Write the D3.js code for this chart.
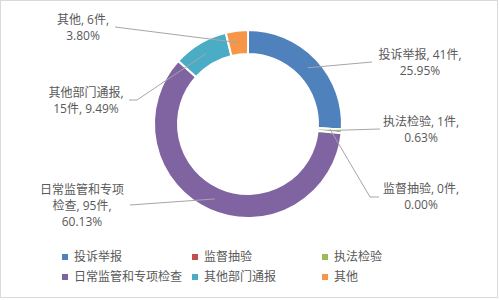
<!DOCTYPE html>
<html>
<head>
<meta charset="utf-8">
<script src="https://cdn.jsdelivr.net/npm/d3@7"></script>
<style>
  body { margin: 0; background: #fff; }
  text { font-family: "Open Sans", "Noto Sans CJK SC", sans-serif; }
</style>
</head>
<body>
<svg id="chart" width="499" height="300"></svg>
<script>
// data
const categories = ["投诉举报", "监督抽验", "执法检验", "日常监管和专项检查", "其他部门通报", "其他"];
const counts = [41, 0, 1, 95, 15, 6];
const percents = ["25.95%", "0.00%", "0.63%", "60.13%", "9.49%", "3.80%"];
const colors = ["#4F81BD", "#C0504D", "#9BBB59", "#8064A2", "#4BACC6", "#F79646"];

// label lines as displayed (wrapped like the original)
const labelLines = [
  ["投诉举报, 41件,", "25.95%"],
  ["监督抽验, 0件,", "0.00%"],
  ["执法检验, 1件,", "0.63%"],
  ["日常监管和专项", "检查, 95件,", "60.13%"],
  ["其他部门通报,", "15件, 9.49%"],
  ["其他, 6件,", "3.80%"]
];

// label placement (layout): text centre x, first line centre y, leader elbow points
const labelPos = [
  { x: 420, y: 55, pts: [[372, 62]] },
  { x: 421, y: 189, pts: [[370, 197], [379, 197]] },
  { x: 421, y: 122, pts: [[380, 129]] },
  { x: 82, y: 190, pts: [[130, 205]] },
  { x: 86, y: 93, pts: [[137, 100], [129, 100]] },
  { x: 83, y: 20, pts: [[115, 27]] }
];
const lineGap = 16;

const svg = d3.select("#chart");

// frame
svg.append("rect")
  .attr("x", 0.5).attr("y", 0.5)
  .attr("width", 497).attr("height", 297)
  .attr("fill", "#fff")
  .attr("stroke", "#d9d9d9");

const cx = 248, cy = 124;
const outerR = 94, innerR = 70;

const pie = d3.pie().sort(null).value(d => d)(counts);
const arc = d3.arc().innerRadius(innerR).outerRadius(outerR);
const midArc = d3.arc().innerRadius(82).outerRadius(82);

const g = svg.append("g").attr("transform", `translate(${cx},${cy})`);

g.selectAll("path")
  .data(pie)
  .enter().append("path")
  .attr("d", arc)
  .attr("fill", (d, i) => colors[i])
  .attr("stroke", "#fff")
  .attr("stroke-width", 2);

// leader lines
const line = d3.line();
pie.forEach((d, i) => {
  const c = midArc.centroid(d);
  const pts = [[c[0] + cx, c[1] + cy], ...labelPos[i].pts];
  svg.append("path")
    .attr("d", line(pts))
    .attr("fill", "none")
    .attr("stroke", "#a6a6a6")
    .attr("stroke-width", 1);
});

// labels
labelLines.forEach((lines, i) => {
  const p = labelPos[i];
  const t = svg.append("text")
    .attr("text-anchor", "middle")
    .attr("font-size", "12px")
    .attr("fill", "#595959");
  lines.forEach((s, j) => {
    t.append("tspan")
      .attr("x", p.x)
      .attr("y", p.y + j * lineGap)
      .attr("dy", "0.35em")
      .text(s);
  });
});

// legend
const legendX = [62, 192, 322];
const legendY = [257, 277];
categories.forEach((name, i) => {
  const lx = legendX[i % 3], ly = legendY[Math.floor(i / 3)];
  svg.append("rect")
    .attr("x", lx).attr("y", ly - 3)
    .attr("width", 6).attr("height", 6)
    .attr("fill", colors[i]);
  svg.append("text")
    .attr("x", lx + 12).attr("y", ly)
    .attr("dy", "0.35em")
    .attr("font-size", "12px")
    .attr("fill", "#595959")
    .text(name);
});
</script>
</body>
</html>
